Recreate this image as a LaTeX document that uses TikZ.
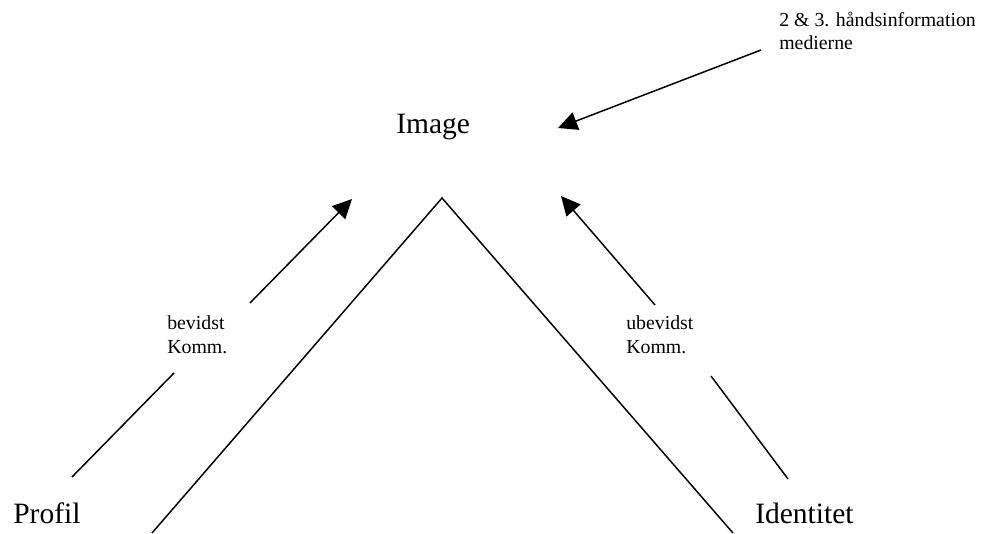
\documentclass[tikz,border=0pt]{standalone}
\usepackage{fontspec}
\setmainfont{Liberation Serif}
\usetikzlibrary{arrows.meta}

\begin{document}
\begin{tikzpicture}
		\tikzset{main label/.style={inner sep=0pt,anchor=base west,font=\fontsize{21}{25}\selectfont},
			komm label/.style={inner sep=0pt,anchor=base west,align=left,font=\fontsize{14.1}{16.8}\selectfont},
			komm line/.style={line width=1.05pt},
			komm arrow/.style={line width=1.05pt,-{Triangle[length=4.8mm,width=4.6mm]}}}

		\useasboundingbox (0,0) rectangle (24.525,13.325);

		\node [main label] (image) at (9.9,9.975) {Image};
		\node [main label] (profil) at (0.325,0.25) {Profil};
		\node [main label] (identitet) at (18.875,0.25) {Identitet};
		\node [komm label] (bevidst) at (4.175,4.5) {bevidst\\Komm.};
		\node [komm label] (ubevidst) at (15.65,4.5) {ubevidst\\Komm.};
		\node [komm label] (medier) at (19.475,12.075) {2 \& 3. håndsinformation\\medierne};

		\coordinate (caret left) at (3.8,0);
		\coordinate (caret top) at (11.05,8.375);
		\coordinate (caret right) at (18.325,0);
		\draw [komm line] (caret left) -- (caret top) -- (caret right);

		\coordinate (p1) at (1.8,1.4);
		\coordinate (p2) at (4.35,4.0);
		\coordinate (p3) at (6.25,5.75);
		\coordinate (p4) at (8.8,8.35);
		\draw [komm line] (p1) -- (p2);
		\draw [komm arrow] (p3) -- (p4);

		\coordinate (i1) at (19.7,1.35);
		\coordinate (i2) at (17.775,3.925);
		\coordinate (i3) at (16.375,5.7);
		\coordinate (i4) at (14.025,8.425);
		\draw [komm line] (i1) -- (i2);
		\draw [komm arrow] (i3) -- (i4);

		\coordinate (m1) at (19.025,12.075);
		\coordinate (m2) at (13.95,10.125);
		\draw [komm arrow] (m1) -- (m2);
	\end{tikzpicture}
\end{document}
